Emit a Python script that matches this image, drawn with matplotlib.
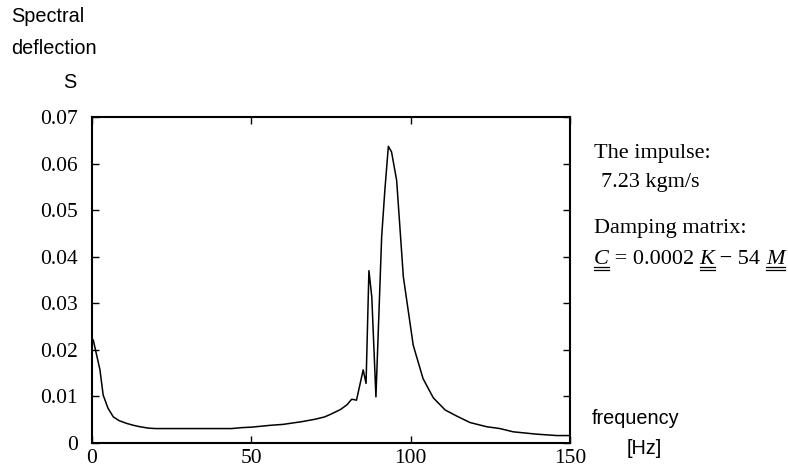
import matplotlib
matplotlib.use("Agg")
import matplotlib.pyplot as plt
from matplotlib.lines import Line2D

freq = [0.4, 2.5, 3.5, 5, 6.7, 8.5, 10.9, 13, 15, 17.6, 20, 25, 30, 35, 40, 43.8,
        47, 50, 53, 56, 60, 63, 66, 70, 73, 75, 78, 80, 81.5, 83.0, 85.1, 86.0,
        86.9, 87.8, 89.1, 90.9, 91.9, 93.0, 94.0, 95.6, 97.7, 100.8, 103.9,
        107.1, 110.8, 114.4, 118.6, 123.8, 128, 132.2, 139.5, 145.8, 150]
spec = [0.0221, 0.0157, 0.0103, 0.0075, 0.0056, 0.0048, 0.0042, 0.0038, 0.0035,
        0.0032, 0.0031, 0.0031, 0.0031, 0.0031, 0.0031, 0.0031, 0.0033, 0.0034,
        0.0036, 0.0038, 0.0040, 0.0043, 0.0046, 0.0051, 0.0056, 0.0062, 0.0072,
        0.0082, 0.0094, 0.0092, 0.0157, 0.0128, 0.0370, 0.0314, 0.0099, 0.0443,
        0.0543, 0.0637, 0.0625, 0.0564, 0.0357, 0.0210, 0.0138, 0.0097, 0.0071,
        0.0058, 0.0044, 0.0035, 0.0031, 0.0024, 0.0019, 0.0016, 0.0016]

xticks = [0, 50, 100, 150]
yticks = [0, 0.01, 0.02, 0.03, 0.04, 0.05, 0.06, 0.07]
ytick_labels = ["0", "0.01", "0.02", "0.03", "0.04", "0.05", "0.06", "0.07"]

W, H = 788, 470
fig = plt.figure(figsize=(W / 100, H / 100), dpi=100)
ax = fig.add_axes([92 / W, 1 - 443 / H, (570 - 92) / W, (443 - 117) / H])
ax.plot(freq, spec, color="black", lw=1.1)
ax.set_xlim(0, 150)
ax.set_ylim(0, 0.07)
ax.set_xticks(xticks)
ax.set_yticks(yticks)
ax.set_yticklabels(ytick_labels)
serif = "Liberation Serif"
sans = "Liberation Sans"
for lab in ax.get_xticklabels() + ax.get_yticklabels():
    lab.set_fontfamily(serif)
    lab.set_fontsize(15.5)
ax.tick_params(direction="in", length=5, width=1, top=True, right=True)
ax.tick_params(axis="y", pad=10)
ax.tick_params(axis="x", pad=4)
for s in ax.spines.values():
    s.set_linewidth(1.5)

def ftext(x, y, s, **kw):
    return fig.text(x / W, 1 - y / H, s, va="center", **kw)

fs_sans = 14.3
ftext(11, 17, "Spectral", family=sans, fontsize=fs_sans)
ftext(11, 48, "deflection", family=sans, fontsize=fs_sans)
ftext(63, 82, "S", family=sans, fontsize=fs_sans)
ftext(592, 418, "frequency", family=sans, fontsize=fs_sans)
ftext(627, 449, "[Hz]", family=sans, fontsize=fs_sans)

fs_serif = 16
ftext(594, 154, "The impulse:", family=serif, fontsize=fs_serif)
ftext(601, 182, "7.23 kgm/s", family=serif, fontsize=fs_serif)
ftext(594, 229, "Damping matrix:", family=serif, fontsize=fs_serif)

fig.canvas.draw()
renderer = fig.canvas.get_renderer()
pieces = [("C", True), (" = 0.0002 ", False), ("K", True), (" \u2212 54 ", False), ("M", True)]
x = 594
ybase = 264
for s, ital in pieces:
    t = fig.text(x / W, 1 - ybase / H, s, va="baseline", family=serif, fontsize=fs_serif,
                 style="italic" if ital else "normal")
    bb = t.get_window_extent(renderer)
    if ital:
        for dy in (3, 6):
            yy = 1 - (ybase + dy) / H
            fig.add_artist(Line2D([bb.x0 / W, bb.x1 / W], [yy, yy], color="black", lw=0.9))
    x = bb.x1

fig.savefig("out.png", dpi=100)
